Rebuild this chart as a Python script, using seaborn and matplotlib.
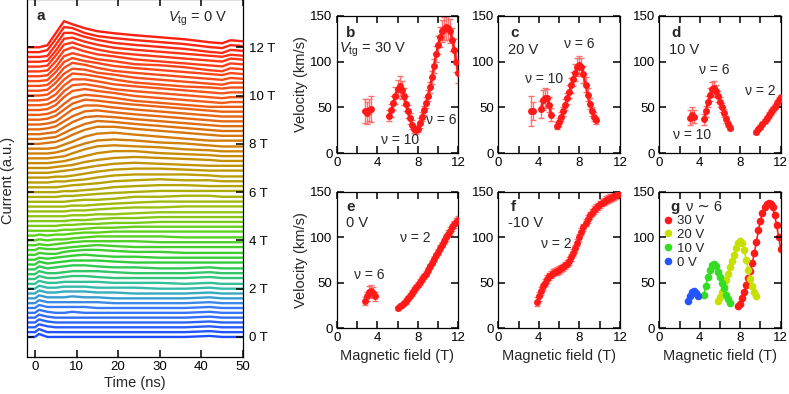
import numpy as np
import pandas as pd
import matplotlib
matplotlib.use('Agg')
import matplotlib.pyplot as plt
import seaborn as sns
from matplotlib.colors import LinearSegmentedColormap
from matplotlib.lines import Line2D

# ---- panel a: current traces, Vtg = 0 V (amplitude in px above each baseline) ----
TIME_NS = [-2, 0, 1, 3, 5, 7, 9, 12, 15, 19, 24, 30, 36, 42, 45, 47, 50]
TRACES = {
    0.0: [0, 0, 3, 0, 0, 0, 0, 0, 0, 0, 0, 0, 0, 1, 0, 0, 0],
    0.2: [0, 0, 3, 0, 0, 0, 0, 0, 0, 0, 0, 0, 0, 1, 0, 0, 0],
    0.4: [0, 0, 3, 1, 0, 0, 0, 0, 0, 0, 0, 0, 0, 1, 0, 0, 0],
    0.6: [0, 0, 3, 1, 0, 0, 0, 0, 0, 0, 0, 0, 0, 1, 0, 0, 0],
    0.8: [0, 0, 3, 1, 0, 0, 0, 0, 0, 0, 0, 0, 0, 1, 0, 0, 0],
    1.0: [0, 0, 3, 1, 0, 0, 1, 0, 0, 0, 0, 0, 0, 1, 0, 0, 0],
    1.2: [0, 0, 3, 1, 1, 1, 1, 1, 0, 0, 0, 0, 0, 1, 0, 0, 0],
    1.4: [0, 0, 3, 1, 1, 1, 1, 1, 1, 0, 0, 0, 0, 1, 0, 0, 0],
    1.6: [0, 0, 3, 1, 1, 1, 2, 1, 1, 0, 0, 0, 0, 1, 0, 0, 0],
    1.8: [0, 0, 3, 1, 1, 2, 2, 2, 1, 1, 0, 0, 0, 1, 0, 0, 0],
    2.0: [0, 0, 3, 1, 1, 2, 2, 2, 1, 1, 1, 0, 0, 1, 0, 0, 0],
    2.2: [0, 0, 3, 1, 1, 2, 2, 2, 2, 1, 1, 1, 0, 1, 0, 0, 0],
    2.4: [0, 0, 3, 1, 1, 2, 3, 3, 2, 1, 1, 1, 1, 2, 1, 1, 1],
    2.6: [0, 0, 3, 1, 1, 2, 3, 3, 3, 2, 1, 1, 1, 2, 1, 1, 1],
    2.8: [0, 0, 3, 1, 2, 3, 4, 4, 3, 2, 2, 1, 1, 2, 1, 1, 1],
    3.0: [0, 0, 3, 1, 2, 3, 4, 4, 4, 3, 2, 2, 2, 2, 2, 2, 2],
    3.2: [0, 0, 2, 1, 2, 3, 4, 5, 4, 3, 3, 2, 2, 2, 2, 2, 2],
    3.4: [0, 0, 2, 1, 1, 3, 4, 5, 5, 4, 3, 3, 2, 2, 2, 2, 2],
    3.6: [0, 0, 2, 1, 1, 2, 3, 4, 5, 4, 3, 3, 3, 3, 3, 3, 3],
    3.8: [0, 0, 1, 0, 1, 2, 3, 4, 4, 4, 4, 3, 3, 3, 3, 3, 3],
    4.0: [0, 0, 1, 0, 1, 1, 2, 3, 4, 4, 4, 4, 3, 3, 3, 3, 3],
    4.2: [0, 0, 1, 0, 1, 1, 2, 3, 3, 4, 4, 4, 4, 4, 4, 4, 4],
    4.4: [0, 0, 0, 0, 0, 1, 1, 2, 3, 3, 4, 4, 4, 4, 4, 4, 4],
    4.6: [0, 0, 0, 0, 0, 1, 1, 2, 2, 3, 3, 4, 4, 4, 4, 4, 4],
    4.8: [0, 0, 0, 0, 0, 0, 1, 1, 2, 3, 3, 4, 4, 4, 4, 4, 4],
    5.0: [0, 0, 0, 0, 0, 0, 1, 1, 2, 2, 3, 4, 4, 4, 4, 4, 4],
    5.2: [0, 0, 0, 0, 0, 0, 1, 1, 2, 3, 4, 4, 5, 5, 5, 5, 5],
    5.4: [0, 0, 0, 0, 0, 0, 1, 1, 2, 3, 4, 5, 5, 5, 5, 5, 5],
    5.6: [0, 0, 0, 0, 0, 0, 1, 2, 2, 3, 5, 5, 6, 6, 5, 5, 5],
    5.8: [0, 0, 0, 0, 0, 1, 1, 2, 3, 4, 5, 6, 6, 6, 6, 6, 6],
    6.0: [0, 0, 0, 0, 0, 1, 1, 2, 3, 5, 6, 7, 7, 6, 6, 6, 6],
    6.2: [0, 0, 0, 0, 0, 1, 2, 3, 4, 6, 7, 8, 7, 7, 6, 6, 6],
    6.4: [0, 0, 0, 0, 1, 1, 2, 3, 5, 7, 8, 8, 8, 7, 6, 6, 6],
    6.6: [0, 0, 0, 0, 1, 1, 2, 4, 6, 8, 9, 9, 8, 7, 7, 7, 7],
    6.8: [0, 0, 0, 0, 1, 2, 3, 5, 7, 9, 10, 9, 8, 7, 7, 7, 7],
    7.0: [0, 0, 0, 0, 1, 2, 3, 6, 8, 10, 11, 10, 9, 8, 7, 7, 7],
    7.2: [0, 0, 0, 0, 1, 2, 4, 7, 10, 12, 12, 10, 9, 8, 7, 7, 7],
    7.4: [0, 0, 0, 0, 1, 2, 5, 9, 12, 13, 12, 11, 9, 8, 7, 7, 7],
    7.6: [0, 0, 0, 0, 1, 3, 6, 10, 13, 14, 13, 11, 10, 8, 7, 7, 7],
    7.8: [0, 0, 0, 0, 1, 4, 7, 12, 15, 16, 14, 12, 10, 8, 8, 8, 8],
    8.0: [0, 0, 0, 1, 2, 5, 9, 14, 17, 17, 15, 13, 11, 9, 8, 8, 8],
    8.2: [0, 0, 0, 1, 2, 6, 10, 15, 18, 17, 15, 13, 11, 9, 8, 8, 8],
    8.4: [0, 0, 0, 1, 2, 7, 12, 17, 18, 17, 15, 13, 11, 9, 8, 8, 8],
    8.6: [0, 0, 0, 1, 3, 8, 13, 18, 19, 17, 15, 13, 11, 9, 8, 8, 8],
    8.8: [0, 0, 0, 1, 3, 9, 15, 19, 19, 17, 15, 13, 11, 9, 8, 8, 8],
    9.0: [0, 0, 0, 1, 4, 10, 16, 20, 19, 17, 15, 13, 11, 9, 8, 8, 8],
    9.2: [0, 0, 0, 1, 4, 11, 17, 20, 19, 17, 14, 12, 10, 8, 8, 8, 8],
    9.4: [0, 0, 0, 1, 5, 13, 19, 21, 19, 17, 14, 12, 10, 8, 7, 8, 8],
    9.6: [0, 0, 0, 1, 5, 14, 20, 21, 19, 16, 14, 12, 10, 8, 7, 8, 8],
    9.8: [0, 0, 0, 1, 6, 15, 21, 21, 19, 16, 14, 12, 10, 8, 7, 8, 8],
    10.0: [0, 0, 0, 1, 7, 16, 22, 21, 19, 16, 13, 11, 9, 8, 7, 8, 8],
    10.2: [0, 0, 0, 1, 8, 17, 22, 21, 18, 16, 13, 11, 9, 7, 6, 8, 8],
    10.4: [0, 0, 0, 1, 8, 18, 23, 21, 18, 15, 13, 11, 9, 7, 6, 8, 7],
    10.6: [0, 0, 0, 1, 9, 19, 23, 20, 18, 15, 13, 11, 9, 7, 6, 8, 7],
    10.8: [0, 0, 0, 1, 9, 20, 23, 20, 17, 15, 12, 11, 9, 6, 5, 8, 7],
    11.0: [0, 0, 0, 1, 10, 21, 24, 20, 17, 15, 12, 10, 8, 6, 5, 8, 7],
    11.2: [0, 0, 0, 1, 11, 22, 24, 20, 17, 14, 12, 10, 8, 6, 5, 8, 7],
    11.4: [0, 0, 0, 1, 11, 23, 24, 20, 17, 14, 12, 10, 8, 6, 5, 7, 6],
    11.6: [0, 0, 0, 1, 12, 24, 24, 20, 17, 14, 12, 10, 8, 5, 4, 7, 6],
    11.8: [0, 0, 0, 2, 13, 25, 24, 19, 16, 14, 12, 10, 8, 5, 4, 7, 6],
    12.0: [0, 0, 0, 2, 14, 26, 23, 19, 16, 14, 12, 10, 8, 5, 4, 7, 6],
}
TRACE_LABELS = ['0 T', '2 T', '4 T', '6 T', '8 T', '10 T', '12 T']
TRACE_LABEL_FIELDS = [0, 2, 4, 6, 8, 10, 12]

# ---- panels b-f: velocity vs magnetic field ----
FIELD_30V = [2.8, 3.0, 3.2, 3.4,
             5.2, 5.4, 5.6, 5.8, 6.0, 6.2, 6.4, 6.6, 6.8, 7.0, 7.2, 7.4, 7.6, 7.8, 8.0, 8.2, 8.4,
             8.6, 8.8, 9.0, 9.2, 9.4, 9.6, 9.8, 10.0, 10.2, 10.4, 10.6, 10.8, 11.0, 11.2, 11.4,
             11.6, 11.8, 12.0]
VEL_30V = [46, 44, 47, 48,
           41, 47, 55, 63, 70, 73, 69, 62, 54, 46, 38, 31, 26, 25, 27, 33, 40,
           47, 55, 63, 72, 83, 95, 108, 118, 127, 133, 136, 138, 137, 133, 124,
           113, 100, 87]
ERR_30V = [13, 12, 12, 14,
           6, 7, 8, 9, 10, 11, 10, 9, 8, 7, 6, 5, 4, 4, 4, 5, 5,
           5, 6, 6, 6, 7, 8, 9, 10, 11, 12, 13, 14, 14, 13, 13,
           12, 11, 10]

FIELD_20V = [3.2, 3.4, 4.2, 4.4, 4.6, 4.8, 5.0, 5.2,
             5.8, 6.0, 6.2, 6.4, 6.6, 6.8, 7.0, 7.2, 7.4, 7.6, 7.8, 8.0, 8.2, 8.4, 8.6, 8.8,
             9.0, 9.2, 9.4, 9.6]
VEL_20V = [46, 46, 48, 58, 60, 60, 53, 42,
           30, 34, 40, 46, 53, 60, 67, 74, 81, 88, 94, 96, 94, 86, 75, 64,
           54, 46, 40, 36]
ERR_20V = [16, 10, 9, 11, 11, 10, 8, 7,
           4, 4, 5, 5, 6, 6, 7, 8, 8, 9, 10, 10, 10, 9, 8, 7,
           6, 5, 5, 4]

FIELD_10V = [3.0, 3.2, 3.4,
             4.4, 4.6, 4.8, 5.0, 5.2, 5.4, 5.6, 5.8, 6.0, 6.2, 6.4, 6.6, 6.8, 7.0,
             9.6, 9.8, 10.0, 10.2, 10.4, 10.6, 10.8, 11.0, 11.2, 11.4, 11.6, 11.8, 12.0]
VEL_10V = [39, 42, 40,
           37, 46, 56, 64, 70, 71, 68, 62, 56, 50, 44, 37, 32, 28,
           23, 26, 29, 32, 35, 38, 42, 45, 48, 51, 55, 58, 61]
ERR_10V = [8, 9, 7,
           6, 6, 6, 7, 8, 8, 7, 6, 5, 5, 4, 4, 3, 3,
           2, 2, 2, 2, 2, 3, 3, 3, 3, 3, 3, 3, 3]

FIELD_0V = [2.8, 3.0, 3.2, 3.4, 3.6, 3.8,
            6.0, 6.2, 6.4, 6.6, 6.8, 7.0, 7.2, 7.4, 7.6, 7.8, 8.0, 8.2, 8.4, 8.6, 8.8, 9.0,
            9.2, 9.4, 9.6, 9.8, 10.0, 10.2, 10.4, 10.6, 10.8, 11.0, 11.2, 11.4, 11.6, 11.8, 12.0]
VEL_0V = [30, 35, 40, 41, 39, 35,
          22, 24, 26, 28, 30, 33, 36, 39, 42, 45, 48, 51, 54, 57, 60, 64,
          68, 72, 76, 80, 84, 88, 92, 96, 100, 104, 107, 111, 114, 117, 119]
ERR_0V = [4, 5, 6, 7, 6, 5,
          2, 2, 2, 2, 3, 3, 3, 3, 3, 3, 3, 3, 3, 3, 3, 3,
          3, 3, 3, 3, 3, 3, 3, 3, 4, 4, 4, 4, 4, 4, 4]

FIELD_M10V = [3.8, 4.0, 4.2, 4.4, 4.6, 4.8, 5.0, 5.2, 5.4, 5.6, 5.8, 6.0, 6.2, 6.4, 6.6, 6.8,
              7.0, 7.2, 7.4, 7.6, 7.8, 8.0, 8.2, 8.4, 8.6, 8.8, 9.0, 9.2, 9.4, 9.6, 9.8, 10.0,
              10.2, 10.4, 10.6, 10.8, 11.0, 11.2, 11.4, 11.6, 11.8, 12.0]
VEL_M10V = [29, 35, 41, 46, 50, 54, 57, 59, 61, 62, 63, 64, 66, 67, 69, 71,
            74, 78, 83, 88, 94, 100, 106, 111, 116, 120, 124, 127, 130, 132, 134, 136,
            138, 139, 141, 142, 143, 144, 145, 146, 147, 148]
ERR_M10V = [5, 5, 4, 4, 4, 4, 4, 4, 4, 4, 4, 4, 4, 4, 4, 4,
            4, 4, 4, 4, 4, 4, 4, 4, 4, 4, 4, 4, 4, 4, 4, 4,
            4, 4, 4, 4, 4, 4, 4, 4, 4, 4]

# nu ~ 6 window used in panel g
NU6_LABELS = ['30 V', '20 V', '10 V', '0 V']
NU6_WINDOWS = [(7.8, 12.0), (5.8, 9.6), (4.4, 7.0), (2.8, 3.8)]

# ---- style ----
sns.set_theme(style='white')
plt.rcParams['font.family'] = ['Liberation Sans', 'DejaVu Sans']
plt.rcParams['mathtext.fontset'] = 'custom'
plt.rcParams['mathtext.rm'] = 'Liberation Sans'
plt.rcParams['mathtext.it'] = 'Liberation Sans:italic'
plt.rcParams.update({
    'axes.linewidth': 0.9, 'axes.edgecolor': 'black', 'axes.axisbelow': False,
    'xtick.direction': 'in', 'ytick.direction': 'in',
    'xtick.top': True, 'ytick.right': True, 'xtick.bottom': True, 'ytick.left': True,
    'xtick.major.size': 5, 'ytick.major.size': 5,
    'xtick.major.width': 1.1, 'ytick.major.width': 1.1,
    'xtick.color': 'black', 'ytick.color': 'black',
    'xtick.labelsize': 9.5, 'ytick.labelsize': 9.5,
    'xtick.major.pad': 3, 'ytick.major.pad': 3,
})

RED = '#ff1a1a'
ERR_RED = '#ff7070'
G_COLORS = ['#ff1a1a', '#c8e000', '#33dd22', '#2255ff']
TRACE_CMAP = LinearSegmentedColormap.from_list('traces', [
    (0.0, '#1e4cff'), (0.1, '#3a7cf5'), (0.17, '#33bfa5'), (0.25, '#2fcc3a'),
    (0.35, '#5ad21c'), (0.42, '#95c412'), (0.5, '#b4a606'), (0.6, '#c98a04'),
    (0.7, '#de6c10'), (0.8, '#f45818'), (0.9, '#ff4418'), (1.0, '#ff2010')])
AMP_SCALE = 12 / 289   # px -> field units

W, H = 789, 394
fig = plt.figure(figsize=(W / 100, H / 100), dpi=100)


def axes_px(left, top, right, bottom):
    return fig.add_axes([left / W, 1 - bottom / H, (right - left) / W, (bottom - top) / H])


def style_ticks(ax):
    ax.set_axisbelow(False)
    ax.tick_params(which='major', direction='in', top=True, right=True, bottom=True, left=True,
                   length=5, width=1.1, labelsize=9.5, pad=3, color='black',
                   labelcolor='black')


# ---- panel a ----
ax_a = axes_px(27, -1, 243, 357)
rows = []
for b, amps in TRACES.items():
    for t, a in zip(TIME_NS, amps):
        rows.append((b, t, b + a * AMP_SCALE))
df_a = pd.DataFrame(rows, columns=['B', 't', 'y'])
sns.lineplot(data=df_a, x='t', y='y', hue='B', palette=TRACE_CMAP, hue_norm=(0, 12),
             legend=False, estimator=None, lw=1.7, ax=ax_a)
ax_a.set_xlim(-1.9, 50)
ax_a.set_ylim(-0.83, 14.0)
ax_a.set_xticks([0, 10, 20, 30, 40, 50])
ax_a.set_yticks(TRACE_LABEL_FIELDS)
ax_a.set_yticklabels(TRACE_LABELS)
style_ticks(ax_a)
ax_a.tick_params(axis='y', labelleft=False, labelright=True, pad=4)
ax_a.set_xlabel('Time (ns)', fontsize=10.5, labelpad=2)
ax_a.set_ylabel('')
fig.text(8 / W, 1 - 180 / H, 'Current (a.u.)', rotation=90, ha='center', va='center',
         fontsize=10.5)
ax_a.text(0.045, 0.952, 'a', transform=ax_a.transAxes, fontsize=11, fontweight='bold',
          va='center')
ax_a.text(0.79, 0.944, r'$V_{\mathrm{tg}}$ = 0 V', transform=ax_a.transAxes, fontsize=10.5,
          ha='center', va='center')


# ---- panels b-f ----
def segments(field):
    field = np.asarray(field)
    cuts = np.where(np.diff(field) > 0.5)[0] + 1
    return np.split(np.arange(len(field)), cuts)


def setup_velocity(ax):
    ax.set_xlim(0, 12)
    ax.set_ylim(0, 150)
    ax.set_xticks([0, 2, 4, 6, 8, 10, 12])
    ax.set_xticklabels(['0', '', '4', '', '8', '', '12'])
    ax.set_yticks([0, 50, 100, 150])
    style_ticks(ax)
    ax.set_xlabel('')
    ax.set_ylabel('')


def velocity_panel(ax, field, vel, err):
    field, vel, err = np.asarray(field), np.asarray(vel), np.asarray(err)
    for idx in segments(field):
        ax.errorbar(field[idx], vel[idx], yerr=err[idx], fmt='none', ecolor=ERR_RED,
                    elinewidth=1.0, capsize=2.4, capthick=1.0, zorder=2)
        sns.lineplot(x=field[idx], y=vel[idx], color=RED, lw=1.6, marker='o', markersize=5,
                     markeredgewidth=0, estimator=None, sort=False, ax=ax, zorder=3)
    setup_velocity(ax)


ROW1 = (15.7, 153.3)
ROW2 = (191.7, 328.3)
COLS = [(336.7, 458.3), (498.3, 620.0), (659.3, 780.7)]

ax_b = axes_px(COLS[0][0], ROW1[0], COLS[0][1], ROW1[1])
ax_c = axes_px(COLS[1][0], ROW1[0], COLS[1][1], ROW1[1])
ax_d = axes_px(COLS[2][0], ROW1[0], COLS[2][1], ROW1[1])
ax_e = axes_px(COLS[0][0], ROW2[0], COLS[0][1], ROW2[1])
ax_f = axes_px(COLS[1][0], ROW2[0], COLS[1][1], ROW2[1])
ax_g = axes_px(COLS[2][0], ROW2[0], COLS[2][1], ROW2[1])

velocity_panel(ax_b, FIELD_30V, VEL_30V, ERR_30V)
velocity_panel(ax_c, FIELD_20V, VEL_20V, ERR_20V)
velocity_panel(ax_d, FIELD_10V, VEL_10V, ERR_10V)
velocity_panel(ax_e, FIELD_0V, VEL_0V, ERR_0V)
velocity_panel(ax_f, FIELD_M10V, VEL_M10V, ERR_M10V)

# panel g
g_sets = [(FIELD_30V, VEL_30V), (FIELD_20V, VEL_20V), (FIELD_10V, VEL_10V), (FIELD_0V, VEL_0V)]
handles = []
for (fld, vel), (lo, hi), col, lab in zip(g_sets, NU6_WINDOWS, G_COLORS, NU6_LABELS):
    fld, vel = np.asarray(fld), np.asarray(vel)
    m = (fld >= lo - 1e-6) & (fld <= hi + 1e-6)
    sns.lineplot(x=fld[m], y=vel[m], color=col, lw=1.2, marker='o', markersize=5.5,
                 markeredgewidth=0, estimator=None, sort=False, ax=ax_g)
    handles.append(Line2D([], [], ls='none', marker='o', markersize=5.5, color=col,
                          markeredgewidth=0, label=lab))
setup_velocity(ax_g)
ax_g.legend(handles=handles, loc='upper left', bbox_to_anchor=(0.04, 0.83), frameon=False,
            fontsize=9.5, handlelength=0.6, handletextpad=0.4, labelspacing=0.12,
            borderaxespad=0, borderpad=0)

for ax in (ax_b, ax_e):
    ax.set_ylabel('Velocity (km/s)', fontsize=10.5, labelpad=2)
for ax in (ax_e, ax_f, ax_g):
    ax.set_xlabel('Magnetic field (T)', fontsize=10.5, labelpad=3)


def txt(ax, x, y, s, **kw):
    kw.setdefault('fontsize', 10)
    kw.setdefault('va', 'center')
    ax.text(x, y, s, transform=ax.transAxes, **kw)


bold = dict(fontsize=11, fontweight='bold', ha='left')
txt(ax_b, 0.08, 0.875, 'b', **bold)
txt(ax_b, 0.02, 0.75, r'$V_{\mathrm{tg}}$ = 30 V', fontsize=10.5)
txt(ax_b, 0.52, 0.097, 'ν = 10', ha='center')
txt(ax_b, 0.86, 0.242, 'ν = 6', ha='center')

txt(ax_c, 0.10, 0.875, 'c', **bold)
txt(ax_c, 0.08, 0.75, '20 V', fontsize=10.5)
txt(ax_c, 0.38, 0.54, 'ν = 10', ha='center')
txt(ax_c, 0.665, 0.792, 'ν = 6', ha='center')

txt(ax_d, 0.10, 0.875, 'd', **bold)
txt(ax_d, 0.08, 0.75, '10 V', fontsize=10.5)
txt(ax_d, 0.45, 0.605, 'ν = 6', ha='center')
txt(ax_d, 0.835, 0.455, 'ν = 2', ha='center')
txt(ax_d, 0.266, 0.133, 'ν = 10', ha='center')

txt(ax_e, 0.08, 0.885, 'e', **bold)
txt(ax_e, 0.08, 0.77, '0 V', fontsize=10.5)
txt(ax_e, 0.65, 0.66, 'ν = 2', ha='center')
txt(ax_e, 0.266, 0.39, 'ν = 6', ha='center')

txt(ax_f, 0.10, 0.885, 'f', **bold)
txt(ax_f, 0.08, 0.77, '-10 V', fontsize=10.5)
txt(ax_f, 0.48, 0.62, 'ν = 2', ha='center')

txt(ax_g, 0.09, 0.885, 'g', **bold)
txt(ax_g, 0.22, 0.885, 'ν ∼ 6', fontsize=10.5, family=['Liberation Sans', 'DejaVu Sans'])

fig.savefig('out.png', dpi=100)
